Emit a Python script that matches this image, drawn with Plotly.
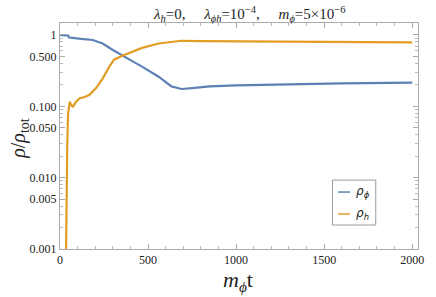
import plotly.graph_objects as go

t_phi = [0, 35, 46, 52, 80, 120, 186, 242, 298, 354, 410, 466, 560, 633, 690, 750, 850, 1000, 1300, 1600, 2000]
rho_phi = [1, 1, 0.98, 0.92, 0.9, 0.88, 0.85, 0.76, 0.62, 0.51, 0.43, 0.36, 0.26, 0.19, 0.175, 0.18, 0.19, 0.197, 0.205, 0.21, 0.215]

t_h = [30, 33, 37, 41, 46, 52, 56, 62, 74, 90, 112, 140, 168, 205, 233, 242, 280, 307, 354, 400, 466, 560, 670, 690, 800, 1000, 1500, 2000]
rho_h = [1e-4, 0.001, 0.0095, 0.027, 0.08, 0.11, 0.116, 0.105, 0.099, 0.115, 0.13, 0.135, 0.145, 0.18, 0.23, 0.245, 0.36, 0.45, 0.51, 0.57, 0.66, 0.76, 0.83, 0.83, 0.82, 0.81, 0.8, 0.79]

y_tickvals = [0.001, 0.005, 0.01, 0.05, 0.1, 0.5, 1]
y_ticktext = ["0.001", "0.005", "0.010", "0.050", "0.100", "0.500", "1"]
y_minor = [0.002, 0.003, 0.004, 0.006, 0.007, 0.008, 0.009,
           0.02, 0.03, 0.04, 0.06, 0.07, 0.08, 0.09,
           0.2, 0.3, 0.4, 0.6, 0.7, 0.8, 0.9]
x_tickvals = [0, 500, 1000, 1500, 2000]
x_minor = [100, 200, 300, 400, 600, 700, 800, 900, 1100, 1200, 1300, 1400, 1600, 1700, 1800, 1900]

legend_names = ["<i>ρ</i><sub><i>ϕ</i></sub>", "<i>ρ</i><sub><i>h</i></sub>"]

BLUE = "#5E81B5"
ORANGE = "#E19C24"
SERIF = "Liberation Serif"
TXT = "#222222"
SP = "\u00a0" * 5

fig = go.Figure()
fig.add_trace(go.Scatter(x=t_phi, y=rho_phi, mode="lines", name=legend_names[0],
                         line=dict(color=BLUE, width=2.2)))
fig.add_trace(go.Scatter(x=t_h, y=rho_h, mode="lines", name=legend_names[1],
                         line=dict(color=ORANGE, width=2.2)))

axis_common = dict(showgrid=False, zeroline=False, showline=True, linecolor="#AAAAAA", linewidth=1,
                   mirror="ticks", ticks="inside", ticklen=5, tickcolor="#AAAAAA",
                   tickfont=dict(family=SERIF, size=12, color=TXT))

fig.update_xaxes(range=[0, 2033], tickvals=x_tickvals,
                 minor=dict(tickvals=x_minor, ticks="inside", ticklen=3, tickcolor="#BBBBBB"),
                 **axis_common)
fig.update_yaxes(type="log", range=[-3, 0.168], tickvals=y_tickvals, ticktext=y_ticktext,
                 minor=dict(tickvals=y_minor, ticks="inside", ticklen=3, tickcolor="#BBBBBB"),
                 **axis_common)

annotations = [
    dict(text="<i>m</i><sub><i>ϕ</i></sub>t", xref="paper", yref="paper", x=0.497, y=-0.142,
         xanchor="center", yanchor="middle", showarrow=False, font=dict(family=SERIF, size=22, color=TXT)),
    dict(text="<i>ρ</i>/<i>ρ</i><sub>tot</sub>", xref="paper", yref="paper", x=-0.113, y=0.49,
         xanchor="center", yanchor="middle", textangle=-90, showarrow=False,
         font=dict(family=SERIF, size=20, color=TXT)),
    dict(text=f"<i>λ</i><sub><i>h</i></sub>=0,{SP}<i>λ</i><sub><i>ϕh</i></sub>=10<sup>−4</sup>,{SP}<i>m</i><sub><i>ϕ</i></sub>=5×10<sup>−6</sup>",
         xref="paper", yref="paper", x=0.529, y=1.0, xanchor="center", yanchor="bottom", yshift=-3,
         showarrow=False, font=dict(family=SERIF, size=15, color=TXT)),
]

# manual legend (box, line samples, labels)
shapes = [dict(type="rect", xref="paper", yref="paper", x0=0.761, x1=0.882, y0=0.106, y1=0.305,
               line=dict(color="#999999", width=1), fillcolor="white", layer="above")]
for i, (nm, col) in enumerate(zip(legend_names, [BLUE, ORANGE])):
    yy = 0.252 - i * 0.097
    shapes.append(dict(type="line", xref="paper", yref="paper", x0=0.777, x1=0.810, y0=yy, y1=yy,
                       line=dict(color=col, width=1.5), layer="above"))
    annotations.append(dict(text=nm, xref="paper", yref="paper", x=0.822, y=yy, xanchor="left",
                            yanchor="middle", showarrow=False,
                            font=dict(family="DejaVu Sans", size=12, color=TXT)))

fig.update_layout(
    width=436, height=297,
    margin=dict(l=60, r=12, t=23, b=48),
    plot_bgcolor="white", paper_bgcolor="white",
    showlegend=False,
    annotations=annotations,
    shapes=shapes,
)

fig.write_html("out.html", config={"displayModeBar": False},
               post_script="document.body.style.margin='0px';")
